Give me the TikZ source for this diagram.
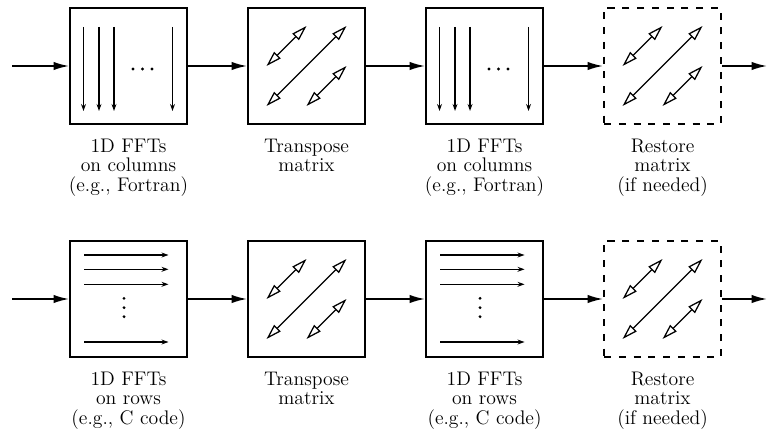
\documentclass[tikz,border=0pt]{standalone}
\usetikzlibrary{arrows.meta,positioning}

\begin{document}
\begin{tikzpicture}[
  x=0.025cm, y=0.025cm,
  >={Latex[length=11pt,width=6pt]},
  blk/.style  = {draw, line width=1.4pt, inner sep=0pt,
                 minimum width=2.925cm, minimum height=2.9cm},
  opt/.style  = {blk, dash pattern=on 5pt off 5.5pt},
  flow/.style = {->, line width=1.2pt},
  fft/.style  = {-{Stealth[length=5pt,width=3.5pt]}, line width=0.9pt},
  swap/.style = {{Triangle[open,length=11pt,width=6.5pt]}-{Triangle[open,length=11pt,width=6.5pt]},
                 line width=0.9pt},
  lbl/.style  = {font=\fontsize{14}{13.6}\selectfont, align=center, inner sep=0pt}
]

% ---- constants ----
\def\gap{1.475cm}   % space between blocks
\def\ytop{363}      % flow line, upper row
\def\ybot{130}      % flow line, lower row

\useasboundingbox (0,0) rectangle (768,429);

% ---- upper row: column FFTs ----
\node[blk] (fftc1) at (128.5,\ytop) {};
\node[blk, right=\gap of fftc1] (tra)   {};
\node[blk, right=\gap of tra]   (fftc2) {};
\node[opt, right=\gap of fftc2] (rsta)  {};

% ---- lower row: row FFTs ----
\node[blk] (fftr1) at (128.5,\ybot) {};
\node[blk, right=\gap of fftr1] (trb)   {};
\node[blk, right=\gap of trb]   (fftr2) {};
\node[opt, right=\gap of fftr2] (rstb)  {};

% ---- inside the blocks ----
\foreach \b in {fftc1,fftc2}{
  \begin{scope}[shift={(\b.center)}]
    \foreach \xx in {-45,-29.5,-14.5,44}
      \draw[fft] (\xx,39) -- (\xx,-45);
    \foreach \xx in {4.5,14,23.5}
      \fill (\xx,-3) circle (1.1pt);
  \end{scope}
}
\foreach \b in {fftr1,fftr2}{
  \begin{scope}[shift={(\b.center)}]
    \foreach \yy in {44,29.7,14.7,-43}
      \draw[fft] (-44.5,\yy) -- (40,\yy);
    \foreach \yy in {0.7,-8.7,-17.7}
      \fill (-4.5,\yy) circle (1.1pt);
  \end{scope}
}
\foreach \b in {tra,rsta,trb,rstb}{
  \begin{scope}[shift={(\b.center)}]
    \draw[swap] (-40,-40) -- (40,40);
    \draw[swap] (-40,0) -- (0,40);
    \draw[swap] (0,-40) -- (40,0);
  \end{scope}
}

% ---- flow ----
\coordinate (ina)  at (12,\ytop);
\coordinate (outa) at (767,\ytop);
\coordinate (inb)  at (12,\ybot);
\coordinate (outb) at (767,\ybot);

\draw[flow] (ina) -- (fftc1);
\draw[flow] (fftc1) -- (tra);
\draw[flow] (tra) -- (fftc2);
\draw[flow] (fftc2) -- (rsta);
\draw[flow] (rsta) -- (outa);

\draw[flow] (inb) -- (fftr1);
\draw[flow] (fftr1) -- (trb);
\draw[flow] (trb) -- (fftr2);
\draw[flow] (fftr2) -- (rstb);
\draw[flow] (rstb) -- (outb);

% ---- captions ----
\node[lbl, below=10pt of fftc1] (lfftc1) {1D FFTs\\on columns\\(e.g., Fortran)};
\node[lbl, below=10pt of tra]   (ltra)   {Transpose\\matrix};
\node[lbl, below=10pt of fftc2] (lfftc2) {1D FFTs\\on columns\\(e.g., Fortran)};
\node[lbl, below=10pt of rsta]  (lrsta)  {Restore\\matrix\\(if needed)};

\node[lbl, below=10pt of fftr1] (lfftr1) {1D FFTs\\on rows\\(e.g., C code)};
\node[lbl, below=10pt of trb]   (ltrb)   {Transpose\\matrix};
\node[lbl, below=10pt of fftr2] (lfftr2) {1D FFTs\\on rows\\(e.g., C code)};
\node[lbl, below=10pt of rstb]  (lrstb)  {Restore\\matrix\\(if needed)};

\end{tikzpicture}
\end{document}
